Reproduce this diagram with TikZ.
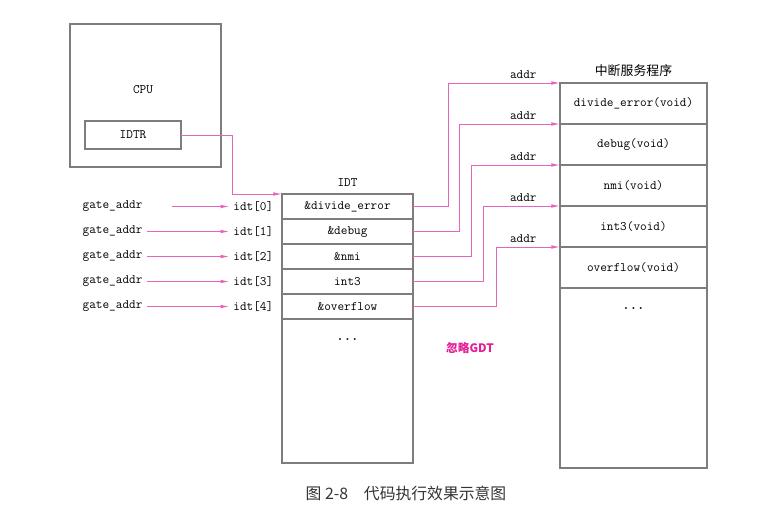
\documentclass[tikz,border=0pt]{standalone}
\usepackage{fontspec}
\newfontfamily\cjk{Noto Sans CJK SC}
\usetikzlibrary{arrows.meta,positioning}
\definecolor{linkpink}{RGB}{232,100,186}
\definecolor{notepink}{RGB}{228,30,150}
\definecolor{boxgray}{RGB}{125,125,125}

\begin{document}
\begin{tikzpicture}[
  x=0.3mm, y=-0.3mm,
  box/.style={draw=boxgray, line width=1.1pt, outer sep=0pt},
  lbl/.style={font=\ttfamily\fontsize{11}{13}\selectfont},
  idtrow/.style={box, lbl, minimum width=39.3mm, minimum height=7.5mm, inner sep=0pt},
  isrrow/.style={box, lbl, minimum width=44.1mm, minimum height=12.3mm, inner sep=0pt},
  link/.style={-{Latex[length=2.6mm,width=1.1mm]}, draw=linkpink, line width=0.8pt},
  dots/.style={font=\ttfamily\bfseries\fontsize{12}{13}\selectfont},
]
  \useasboundingbox (0,0) rectangle (779,515);

  % CPU
  \node[box, minimum width=45.3mm, minimum height=42.9mm] (cpu) at (145.5,95.5) {};
  \node[lbl] (cpulabel) at (143,90) {CPU};
  \node[box, lbl, minimum width=28.8mm, minimum height=8.4mm] (idtr) at (133,135) {IDTR};

  % IDT table
  \node[idtrow] (d0) at (347.5,206.5) {\&divide\_error};
  \node[idtrow, below=0pt of d0] (d1) {\&debug};
  \node[idtrow, below=0pt of d1] (d2) {\&nmi};
  \node[idtrow, below=0pt of d2] (d3) {int3};
  \node[idtrow, below=0pt of d3] (d4) {\&overflow};
  \node[idtrow, minimum height=43.2mm, below=0pt of d4] (drest) {};
  \node[dots, below=4.6mm of d4] (ddots) {...};
  \node[lbl, above=1mm of d0] (idtlabel) {IDT};

  % gate entries
  \node[lbl, left=1.4mm of d0] (i0) {idt[0]};
  \node[lbl, left=1.4mm of d1] (i1) {idt[1]};
  \node[lbl, left=1.4mm of d2] (i2) {idt[2]};
  \node[lbl, left=1.4mm of d3] (i3) {idt[3]};
  \node[lbl, left=1.4mm of d4] (i4) {idt[4]};
  \node[lbl, left=24.8mm of i0] (g0) {gate\_addr};
  \node[lbl, left=24.8mm of i1] (g1) {gate\_addr};
  \node[lbl, left=24.8mm of i2] (g2) {gate\_addr};
  \node[lbl, left=24.8mm of i3] (g3) {gate\_addr};
  \node[lbl, left=24.8mm of i4] (g4) {gate\_addr};

  \draw[link] ([xshift=7.5mm]g0.east) -- (i0.west);
  \draw[link] (g1.east) -- (i1.west);
  \draw[link] (g2.east) -- (i2.west);
  \draw[link] (g3.east) -- (i3.west);
  \draw[link] (g4.east) -- (i4.west);

  % interrupt service routines
  \node[isrrow] (s0) at (633.5,103.5) {divide\_error(void)};
  \node[isrrow, below=0pt of s0] (s1) {debug(void)};
  \node[isrrow, below=0pt of s1] (s2) {nmi(void)};
  \node[isrrow, below=0pt of s2] (s3) {int3(void)};
  \node[isrrow, below=0pt of s3] (s4) {overflow(void)};
  \node[isrrow, minimum height=54mm, below=0pt of s4] (srest) {};
  \node[dots, below=4.6mm of s4] (sdots) {...};
  \node[font=\cjk\fontsize{11}{13}\selectfont, above=0.8mm of s0] (isrlabel) {中断服务程序};

  % IDTR -> IDT
  \draw[link] (idtr.east) -- ++(51,0) |- (d0.north west);

  % IDT -> handlers
  \draw[link] (d0.east) -- ++(35,0) |- node[lbl, pos=1, above, xshift=-11mm] {addr} (s0.north west);
  \draw[link] (d1.east) -- ++(46,0) |- node[lbl, pos=1, above, xshift=-11mm] {addr} (s1.north west);
  \draw[link] (d2.east) -- ++(58,0) |- node[lbl, pos=1, above, xshift=-11mm] {addr} (s2.north west);
  \draw[link] (d3.east) -- ++(70,0) |- node[lbl, pos=1, above, xshift=-11mm] {addr} (s3.north west);
  \draw[link] (d4.east) -- ++(83,0) |- node[lbl, pos=1, above, xshift=-11mm] {addr} (s4.north west);

  \node[font=\cjk\bfseries\fontsize{10}{12}\selectfont, text=notepink] (note) at (470,348) {忽略GDT};
  \node[font=\cjk\fontsize{13.5}{15}\selectfont, text=black!80] (caption) at (406,493) {图 2-8\quad 代码执行效果示意图};
\end{tikzpicture}
\end{document}
